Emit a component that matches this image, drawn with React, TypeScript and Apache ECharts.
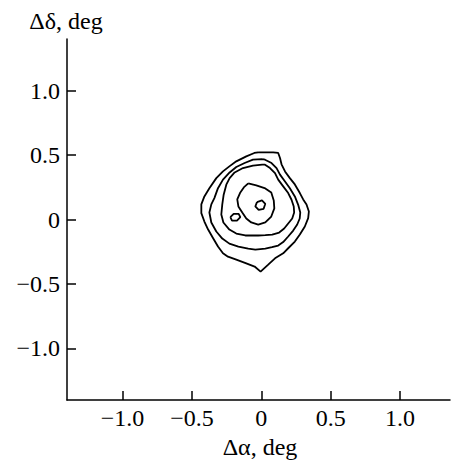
import React, { useEffect, useRef } from "react";
import * as echarts from "echarts";

const tickValues = [-1, -0.5, 0, 0.5, 1];

// Contour level 1 (outermost)
const contour1: number[][] = [
  [-0.022, 0.521], [0.027, 0.521], [0.086, 0.521], [0.122, 0.516], [0.135, 0.477],
  [0.146, 0.428], [0.171, 0.373], [0.206, 0.321], [0.242, 0.272], [0.278, 0.205],
  [0.302, 0.156], [0.326, 0.117], [0.343, 0.062], [0.338, 0.010], [0.314, -0.054],
  [0.278, -0.117], [0.242, -0.171], [0.194, -0.223], [0.158, -0.262], [0.099, -0.301],
  [0.050, -0.350], [-0.005, -0.404], [-0.048, -0.365], [-0.108, -0.340], [-0.180, -0.311],
  [-0.240, -0.288], [-0.276, -0.262], [-0.312, -0.210], [-0.347, -0.145], [-0.383, -0.078],
  [-0.410, -0.016], [-0.432, 0.049], [-0.432, 0.117], [-0.410, 0.179], [-0.374, 0.243],
  [-0.324, 0.321], [-0.276, 0.373], [-0.230, 0.412], [-0.180, 0.451], [-0.108, 0.490],
  [-0.050, 0.516], [-0.022, 0.521],
];

// Contour level 2
const contour2: number[][] = [
  [0.007, 0.469], [0.027, 0.464], [0.074, 0.438], [0.110, 0.399], [0.135, 0.348],
  [0.171, 0.295], [0.206, 0.243], [0.242, 0.179], [0.266, 0.114], [0.281, 0.054],
  [0.277, 0.008], [0.259, -0.039], [0.230, -0.086], [0.194, -0.132], [0.158, -0.175],
  [0.122, -0.202], [0.077, -0.215], [0.029, -0.226], [-0.043, -0.233], [-0.094, -0.226],
  [-0.165, -0.210], [-0.230, -0.187], [-0.281, -0.148], [-0.324, -0.093], [-0.360, -0.023],
  [-0.374, 0.054], [-0.360, 0.117], [-0.338, 0.166], [-0.312, 0.243], [-0.276, 0.309],
  [-0.228, 0.365], [-0.180, 0.407], [-0.120, 0.438], [-0.060, 0.464], [0.007, 0.469],
];

// Contour level 3
const contour3: number[][] = [
  [0.007, 0.425], [0.027, 0.425], [0.063, 0.399], [0.099, 0.360], [0.122, 0.309],
  [0.158, 0.257], [0.194, 0.205], [0.218, 0.153], [0.234, 0.101], [0.237, 0.054],
  [0.223, 0.008], [0.194, -0.031], [0.165, -0.070], [0.129, -0.101], [0.079, -0.117],
  [0.029, -0.121], [-0.022, -0.124], [-0.115, -0.124], [-0.180, -0.109], [-0.230, -0.078],
  [-0.273, -0.023], [-0.288, 0.039], [-0.281, 0.117], [-0.271, 0.192], [-0.252, 0.270],
  [-0.228, 0.321], [-0.192, 0.365], [-0.132, 0.399], [-0.060, 0.418], [0.007, 0.425],
];

// Contour level 4 (around main peak)
const contour4: number[][] = [
  [-0.094, 0.280], [-0.036, 0.264], [0.029, 0.241], [0.072, 0.210], [0.090, 0.148],
  [0.094, 0.086], [0.072, 0.023], [0.029, -0.023], [-0.022, -0.039], [-0.072, -0.023],
  [-0.108, 0.008], [-0.137, 0.054], [-0.165, 0.101], [-0.173, 0.156], [-0.151, 0.210],
  [-0.126, 0.249], [-0.094, 0.280],
];

// Contour level 5 (main peak)
const contour5a: number[][] = [
  [-0.031, 0.135], [0.005, 0.148], [0.029, 0.122], [0.017, 0.083], [-0.019, 0.075],
  [-0.043, 0.101], [-0.031, 0.135],
];

// Secondary peak (left)
const contour5b: number[][] = [
  [-0.223, 0.018], [-0.199, 0.044], [-0.163, 0.044], [-0.151, 0.018], [-0.175, -0.008],
  [-0.211, -0.008], [-0.223, 0.018],
];

const contours = [contour1, contour2, contour3, contour4, contour5a, contour5b];

const FONT = "'Liberation Serif', 'Times New Roman', serif";

const fmt = (v: number) => {
  if (v === 0) return "0";
  const s = Math.abs(v).toFixed(1);
  return v < 0 ? "\u2212" + s : s;
};

export default function App() {
  const ref = useRef<HTMLDivElement>(null);
  useEffect(() => {
    if (!ref.current) return;
    const chart = echarts.init(ref.current, null, { renderer: "svg" });
    const axisCommon = {
      type: "value" as const,
      axisLine: { show: true, onZero: false, lineStyle: { color: "#000", width: 1.5 } },
      axisTick: { show: true, inside: true, length: 9, lineStyle: { color: "#000", width: 1.5 }, customValues: tickValues },
      axisLabel: { color: "#000", fontFamily: FONT, fontSize: 24, formatter: fmt, customValues: tickValues },
      splitLine: { show: false },
    };
    chart.setOption({
      animation: false,
      backgroundColor: "#fff",
      grid: { left: 67, right: 1, top: 39, bottom: 66 },
      xAxis: { ...axisCommon, min: -1.4, max: 1.36, axisLabel: { ...axisCommon.axisLabel, margin: 6 } },
      yAxis: { ...axisCommon, min: -1.4, max: 1.4, axisLabel: { ...axisCommon.axisLabel, margin: 7 } },
      graphic: [
        { type: "text", x: 66, y: 21, style: { text: "\u0394\u03b4, deg", font: `24px ${FONT}`, fill: "#000", textAlign: "center", textVerticalAlign: "middle" } },
        { type: "text", x: 260, y: 447, style: { text: "\u0394\u03b1, deg", font: `24px ${FONT}`, fill: "#000", textAlign: "center", textVerticalAlign: "middle" } },
      ],
      series: contours.map((c) => ({
        type: "line",
        data: c,
        symbol: "none",
        smooth: false,
        lineStyle: { color: "#000", width: 1.8 },
      })),
    });
    return () => chart.dispose();
  }, []);
  return <div ref={ref} style={{ position: "fixed", left: 0, top: 0, width: 451, height: 466 }} />;
}
